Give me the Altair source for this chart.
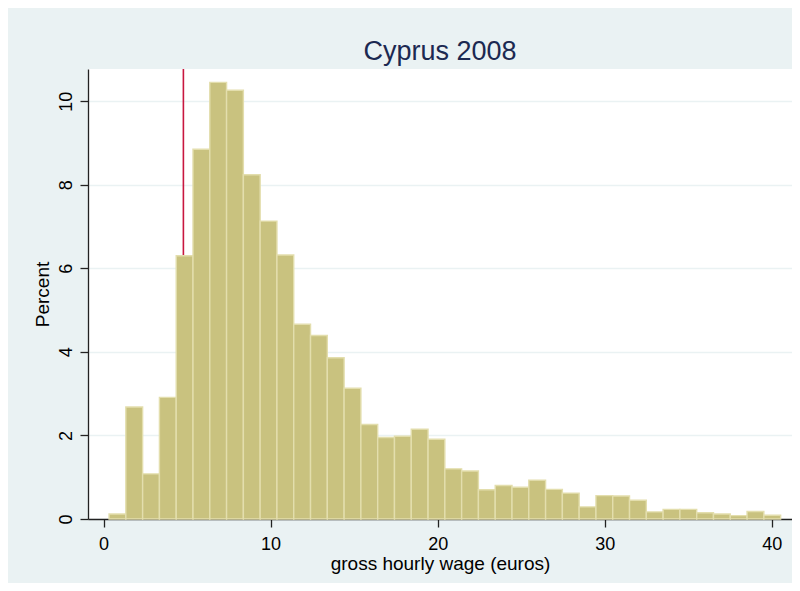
import altair as alt
import pandas as pd

# Histogram: percent of workers in each 1-euro wage bin
percent = [0.12, 2.68, 1.08, 2.91, 6.30, 8.85, 10.45, 10.26, 8.24, 7.13,
           6.32, 4.66, 4.39, 3.86, 3.13, 2.26, 1.95, 1.98, 2.15, 1.91,
           1.20, 1.15, 0.70, 0.80, 0.76, 0.93, 0.71, 0.62, 0.29, 0.56,
           0.55, 0.45, 0.17, 0.23, 0.23, 0.15, 0.12, 0.08, 0.18, 0.09]
bin_start = 0.33
bin_width = 1.005

min_wage = [4.78]

x_ticks = [0, 10, 20, 30, 40]
y_ticks = [0, 2, 4, 6, 8, 10]

title_text = "Cyprus 2008"
x_title = "gross hourly wage (euros)"
y_title = "Percent"

df = pd.DataFrame({
    "lo": [bin_start + i * bin_width for i in range(len(percent))],
    "hi": [bin_start + (i + 1) * bin_width for i in range(len(percent))],
    "pct": percent,
})
rule_df = pd.DataFrame({"lo": min_wage})

FONT = "Liberation Sans"
BG = "#EAF2F3"

x_scale = alt.Scale(domain=[-0.93, 41.21], nice=False, zero=False)
y_scale = alt.Scale(domain=[0, 10.77], nice=False, zero=True)

x_axis = alt.Axis(
    values=x_ticks, format="d", grid=False,
    tickSize=8, tickWidth=1.3, tickColor="#222222",
    domainColor="#222222", domainWidth=1.3,
    labelFont=FONT, labelFontSize=18, labelColor="#000000",
    labelBaseline="alphabetic", labelPadding=22, labelFlush=False,
    titleFont=FONT, titleFontSize=19, titleFontWeight="normal", titleColor="#000000",
    titleX=352, titleY=50, titleBaseline="alphabetic", titleAlign="center",
)
y_axis = alt.Axis(
    values=y_ticks, format="d", grid=True, gridColor=BG, gridWidth=1.6,
    tickSize=8, tickWidth=1.3, tickColor="#222222",
    domainColor="#222222", domainWidth=1.3,
    labelFont=FONT, labelFontSize=18, labelColor="#000000",
    labelAngle=270, labelAlign="center", labelBaseline="alphabetic", labelPadding=9,
    titleFont=FONT, titleFontSize=19, titleFontWeight="normal", titleColor="#000000",
    titleAngle=270, titleX=-40, titleY=225, titleBaseline="alphabetic", titleAlign="center",
)

rule = alt.Chart(rule_df).mark_rule(color="#C8173F", strokeWidth=1.6).encode(
    x=alt.X("lo:Q", scale=x_scale, axis=x_axis, title=x_title),
)

bars = alt.Chart(df).mark_rect(fill="#C9C27F", stroke="#E3DEAD", strokeWidth=1.4).encode(
    x=alt.X("lo:Q", scale=x_scale, axis=x_axis, title=x_title),
    x2="hi:Q",
    y=alt.Y("pct:Q", scale=y_scale, axis=y_axis, title=y_title),
    y2=alt.datum(0),
)

chart = alt.layer(rule, bars).properties(
    width=704,
    height=450,
    title=alt.TitleParams(
        text=title_text, font=FONT, fontSize=27, fontWeight="normal",
        color="#1C2951", anchor="middle", baseline="alphabetic", offset=-19,
    ),
    background=BG,
    padding={"left": 80, "top": 61, "right": 0, "bottom": 64},
    autosize=alt.AutoSizeParams(type="none"),
).configure_view(
    fill="#FFFFFF", stroke=None, strokeWidth=0,
)

chart.save("out.html", embed_options={"renderer": "svg", "actions": False})
